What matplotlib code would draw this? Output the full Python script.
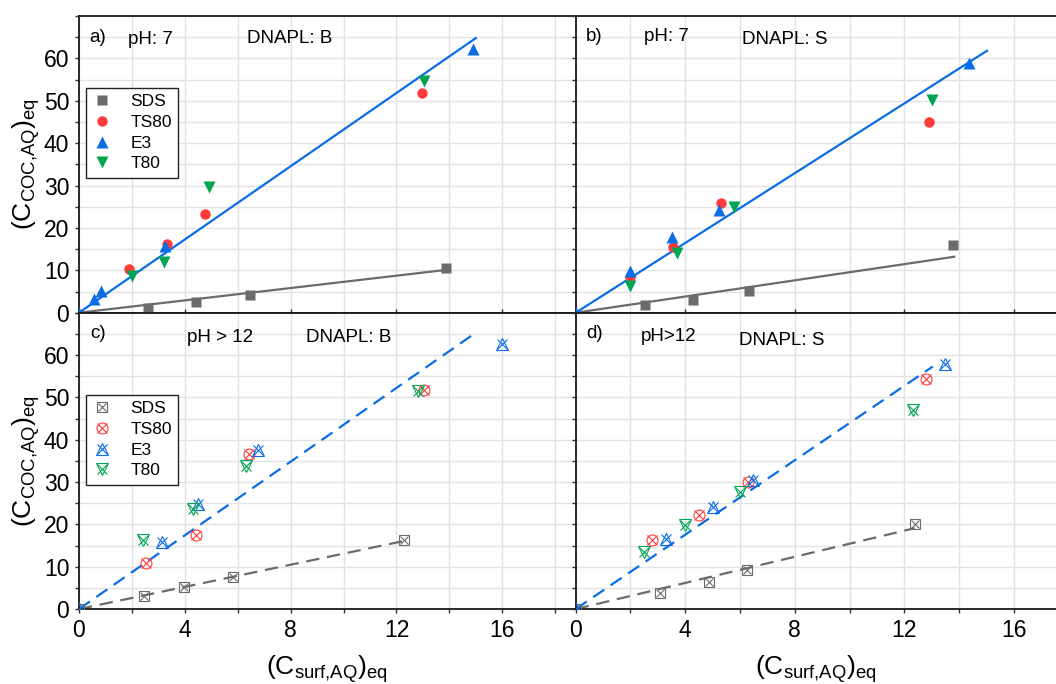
import matplotlib
matplotlib.use("Agg")
import matplotlib.pyplot as plt
from matplotlib.ticker import MultipleLocator

plt.rcParams['font.family'] = ['Liberation Sans', 'DejaVu Sans']

# ---- data ---------------------------------------------------------------
# a) pH 7, DNAPL B
a_sds_x = [2.62, 4.41, 6.46, 13.87]
a_sds_y = [1.0, 2.45, 4.25, 10.6]
a_ts80_x = [1.88, 3.33, 4.77, 12.95]
a_ts80_y = [10.2, 16.3, 23.4, 51.9]
a_e3_x = [0.0, 0.58, 0.82, 3.25, 14.88]
a_e3_y = [0.0, 3.2, 5.2, 15.8, 62.2]
a_t80_x = [2.02, 3.23, 4.93, 13.04]
a_t80_y = [8.7, 11.9, 29.7, 54.7]
a_fit_x = [0, 15.0]
a_fit_y = [0, 64.8]
a_fit_sds_x = [0, 13.87]
a_fit_sds_y = [0, 10.1]

# b) pH 7, DNAPL S
b_sds_x = [2.54, 4.29, 6.33, 13.79]
b_sds_y = [1.75, 3.07, 5.1, 15.9]
b_ts80_x = [1.98, 3.54, 5.32, 12.9]
b_ts80_y = [8.5, 15.5, 26.0, 45.1]
b_e3_x = [0.0, 1.98, 3.50, 5.23, 14.37]
b_e3_y = [0.0, 9.8, 17.9, 24.2, 59.0]
b_t80_x = [1.98, 3.69, 5.79, 13.0]
b_t80_y = [6.4, 14.2, 24.9, 50.2]
b_fit_x = [0, 15.02]
b_fit_y = [0, 61.8]
b_fit_sds_x = [0, 13.82]
b_fit_sds_y = [0, 13.2]

# c) pH > 12, DNAPL B
c_sds_x = [0.0, 2.46, 3.96, 5.81, 12.3]
c_sds_y = [0.0, 3.07, 5.2, 7.65, 16.4]
c_ts80_x = [2.52, 4.43, 6.41, 13.04]
c_ts80_y = [10.8, 17.4, 36.7, 51.7]
c_e3_x = [0.0, 3.14, 4.51, 6.75, 16.0]
c_e3_y = [0.0, 15.8, 24.8, 37.6, 62.6]
c_t80_x = [2.42, 4.32, 6.31, 12.82]
c_t80_y = [16.2, 23.7, 33.8, 51.6]
c_fit_x = [0, 15.0]
c_fit_y = [0, 65.3]
c_fit_sds_x = [0, 12.3]
c_fit_sds_y = [0, 16.1]

# d) pH > 12, DNAPL S
d_sds_x = [0.0, 3.09, 4.88, 6.25, 12.4]
d_sds_y = [0.0, 3.7, 6.4, 9.15, 20.1]
d_ts80_x = [2.80, 4.50, 6.28, 12.81]
d_ts80_y = [16.2, 22.1, 30.1, 54.4]
d_e3_x = [0.0, 3.31, 5.01, 6.49, 13.5]
d_e3_y = [0.0, 16.6, 24.2, 30.4, 57.9]
d_t80_x = [2.48, 3.99, 6.0, 12.3]
d_t80_y = [13.5, 19.8, 27.7, 47.1]
d_fit_x = [0, 13.04]
d_fit_y = [0, 57.3]
d_fit_sds_x = [0, 12.38]
d_fit_sds_y = [0, 19.1]

labels = ['SDS', 'TS80', 'E3', 'T80']
colors = ['#6b6b6b', '#ff3b3b', '#0b6de6', '#00a552']
markers = ['s', 'o', '^', 'v']
msizes = [6.5, 7.5, 8.5, 8.5]

GREY, BLUE = colors[0], colors[2]

fig = plt.figure(figsize=(10.56, 6.84), dpi=100)
ax_a = fig.add_axes([0.0748, 0.5428, 0.4703, 0.4338])
ax_b = fig.add_axes([0.5452, 0.5428, 0.4548, 0.4338])
ax_c = fig.add_axes([0.0748, 0.1096, 0.4703, 0.4332])
ax_d = fig.add_axes([0.5452, 0.1096, 0.4548, 0.4332])

panels = [
    (ax_a, 18.77, [(a_sds_x, a_sds_y), (a_ts80_x, a_ts80_y), (a_e3_x, a_e3_y), (a_t80_x, a_t80_y)],
     (a_fit_x, a_fit_y), (a_fit_sds_x, a_fit_sds_y), False),
    (ax_b, 17.54, [(b_sds_x, b_sds_y), (b_ts80_x, b_ts80_y), (b_e3_x, b_e3_y), (b_t80_x, b_t80_y)],
     (b_fit_x, b_fit_y), (b_fit_sds_x, b_fit_sds_y), False),
    (ax_c, 18.77, [(c_sds_x, c_sds_y), (c_ts80_x, c_ts80_y), (c_e3_x, c_e3_y), (c_t80_x, c_t80_y)],
     (c_fit_x, c_fit_y), (c_fit_sds_x, c_fit_sds_y), True),
    (ax_d, 17.54, [(d_sds_x, d_sds_y), (d_ts80_x, d_ts80_y), (d_e3_x, d_e3_y), (d_t80_x, d_t80_y)],
     (d_fit_x, d_fit_y), (d_fit_sds_x, d_fit_sds_y), True),
]

handles = {}
for ax, xmax, series, fit, fit_sds, high_ph in panels:
    ax.set_xlim(0, xmax)
    ax.set_ylim(0, 70)
    ax.xaxis.set_major_locator(MultipleLocator(4))
    ax.xaxis.set_minor_locator(MultipleLocator(2))
    ax.set_yticks(range(0, 61, 10))
    ax.yaxis.set_minor_locator(MultipleLocator(5))
    ax.grid(True, which='both', color='#e2e2e2', lw=1.0)
    ax.set_axisbelow(True)
    ax.spines['right'].set_visible(False)
    for side in ['left', 'top', 'bottom']:
        ax.spines[side].set_color('#1a1a1a')
        ax.spines[side].set_linewidth(1.3)
    ax.tick_params(which='both', direction='out', length=3, width=1.0,
                   labelsize=16.5, color='#333333')
    ax.tick_params(axis='y', pad=4)
    ax.tick_params(axis='x', pad=4)

    ls = (0, (6, 3.5)) if high_ph else '-'
    ax.plot(fit_sds[0], fit_sds[1], color=GREY, lw=1.6, ls=ls, zorder=2)
    ax.plot(fit[0], fit[1], color=BLUE, lw=1.6, ls=ls, zorder=2)

    hs = []
    for (xs, ys), lab, col, mk, ms in zip(series, labels, colors, markers, msizes):
        if high_ph:
            h1, = ax.plot(xs, ys, ls='none', marker=mk, ms=ms * 1.05, mfc='none',
                          mec=col, mew=0.8, zorder=3)
            h2, = ax.plot(xs, ys, ls='none', marker='x', ms=ms * 0.9,
                          mec=col, mew=0.8, zorder=3)
            hs.append((h1, h2))
        else:
            h, = ax.plot(xs, ys, ls='none', marker=mk, ms=ms, color=col,
                         mec='none', zorder=3)
            hs.append(h)
    handles[ax] = hs

for ax in (ax_a, ax_b):
    ax.tick_params(axis='x', labelbottom=False, direction='in')
for ax in (ax_b, ax_d):
    ax.tick_params(axis='y', labelleft=False)

ylab = r'$\mathregular{(C_{COC{,}AQ})_{eq}}$'
xlab = r'$\mathregular{(C_{surf{,}AQ})_{eq}}$'
for ax in (ax_a, ax_c):
    ax.set_ylabel(ylab, fontsize=19)
    ax.yaxis.set_label_coords(-0.074, 0.5)
for ax in (ax_c, ax_d):
    ax.set_xlabel(xlab, fontsize=19)
    ax.xaxis.set_label_coords(0.5, -0.15)

txt = dict(fontsize=13.5, va='center', ha='left')
ax_a.text(0.02, 0.928, 'a)', transform=ax_a.transAxes, **txt)
ax_a.text(0.098, 0.92, 'pH: 7', transform=ax_a.transAxes, **txt)
ax_a.text(0.338, 0.924, 'DNAPL: B', transform=ax_a.transAxes, **txt)
ax_b.text(0.021, 0.93, 'b)', transform=ax_b.transAxes, **txt)
ax_b.text(0.142, 0.93, 'pH: 7', transform=ax_b.transAxes, **txt)
ax_b.text(0.346, 0.92, 'DNAPL: S', transform=ax_b.transAxes, **txt)
ax_c.text(0.022, 0.93, 'c)', transform=ax_c.transAxes, **txt)
ax_c.text(0.218, 0.915, 'pH > 12', transform=ax_c.transAxes, **txt)
ax_c.text(0.457, 0.915, 'DNAPL: B', transform=ax_c.transAxes, **txt)
ax_d.text(0.021, 0.93, 'd)', transform=ax_d.transAxes, **txt)
ax_d.text(0.136, 0.919, 'pH>12', transform=ax_d.transAxes, **txt)
ax_d.text(0.339, 0.906, 'DNAPL: S', transform=ax_d.transAxes, **txt)

for ax, top in ((ax_a, 0.757), (ax_c, 0.722)):
    leg = ax.legend(handles[ax], labels, loc='upper left', bbox_to_anchor=(0.014, top),
                    fontsize=12.5, frameon=True, fancybox=False, edgecolor='#222222',
                    framealpha=1, borderpad=0.35, labelspacing=0.32,
                    handlelength=1.2, handletextpad=1.0, borderaxespad=0)
    leg.get_frame().set_linewidth(1.0)

fig.savefig('out.png', dpi=100)
